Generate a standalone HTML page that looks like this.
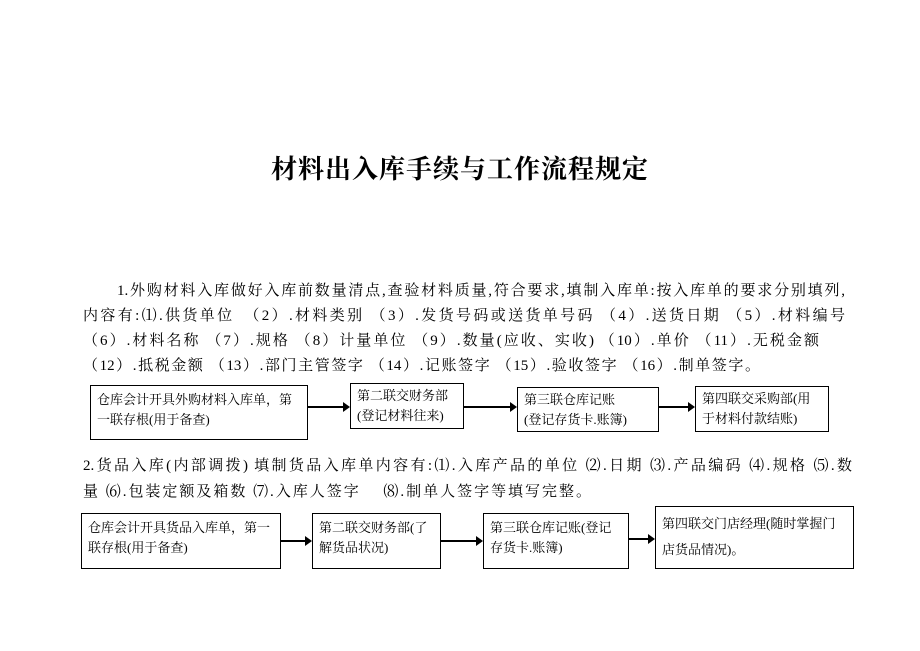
<!DOCTYPE html>
<html><head><meta charset="utf-8"><style>
body{margin:0;width:920px;height:651px;background:#fff;position:relative;font-family:"Liberation Serif","Noto Serif CJK SC","Noto Sans CJK SC",serif;color:#000;overflow:hidden}
.t{position:absolute;white-space:nowrap;font-size:15px;line-height:18px;text-align:justify;text-align-last:justify;text-justify:inter-character}
.title{position:absolute;left:0;width:920px;top:149px;text-align:center;font-size:26px;font-weight:bold;letter-spacing:1px;font-family:"Noto Serif CJK SC","Noto Sans CJK SC",serif}
.b{position:absolute;border:1.5px solid #000;box-sizing:border-box;font-size:13px;line-height:20px;padding:4px 6px}
.a{position:absolute;height:2px;background:#000}
.a:after{content:"";position:absolute;right:-2px;top:-4px;border-left:7px solid #000;border-top:5px solid transparent;border-bottom:5px solid transparent}
</style></head><body>
<div class="title">材料出入库手续与工作流程规定</div>
<div class="t" style="left:117px;top:282px;width:728px">1.外购材料入库做好入库前数量清点,查验材料质量,符合要求,填制入库单:按入库单的要求分别填列,</div>
<div class="t" style="left:83px;top:307px;width:762px">内容有:⑴.供货单位　（2）.材料类别 （3）.发货号码或送货单号码 （4）.送货日期 （5）.材料编号</div>
<div class="t" style="left:83px;top:332px;width:736px">（6）.材料名称 （7）.规格 （8）计量单位 （9）.数量(应收、实收) （10）.单价 （11）.无税金额</div>
<div class="t" style="left:83px;top:357px;width:677px">（12）.抵税金额 （13）.部门主管签字 （14）.记账签字 （15）.验收签字 （16）.制单签字。</div>

<div class="b" style="left:90px;top:385px;width:218px;height:55px">仓库会计开具外购材料入库单，第一联存根(用于备查)</div>
<div class="a" style="left:308px;top:406px;width:40px"></div>
<div class="b" style="left:350px;top:383px;width:114px;height:46px;padding-top:2px">第二联交财务部<br>(登记材料往来)</div>
<div class="a" style="left:464px;top:406px;width:51px"></div>
<div class="b" style="left:517px;top:387px;width:142px;height:45px;padding-top:2px">第三联仓库记账<br>(登记存货卡.账簿)</div>
<div class="a" style="left:659px;top:406px;width:34px"></div>
<div class="b" style="left:695px;top:386px;width:134px;height:46px;padding-top:2px">第四联交采购部(用于材料付款结账)</div>

<div class="t" style="left:83px;top:457px;width:769px">2.货品入库(内部调拨) 填制货品入库单内容有:⑴.入库产品的单位 ⑵.日期 ⑶.产品编码 ⑷.规格 ⑸.数</div>
<div class="t" style="left:83px;top:483px;width:508px">量 ⑹.包装定额及箱数 ⑺.入库人签字　 ⑻.制单人签字等填写完整。</div>

<div class="b" style="left:81px;top:513px;width:200px;height:56px">仓库会计开具货品入库单，第一联存根(用于备查)</div>
<div class="a" style="left:281px;top:540px;width:29px"></div>
<div class="b" style="left:312px;top:513px;width:129px;height:56px">第二联交财务部(了解货品状况)</div>
<div class="a" style="left:441px;top:540px;width:40px"></div>
<div class="b" style="left:483px;top:513px;width:146px;height:56px">第三联仓库记账(登记存货卡.账簿)</div>
<div class="a" style="left:629px;top:538px;width:24px"></div>
<div class="b" style="left:655px;top:506px;width:199px;height:63px;line-height:26px">第四联交门店经理(随时掌握门店货品情况)。</div>
</body></html>
